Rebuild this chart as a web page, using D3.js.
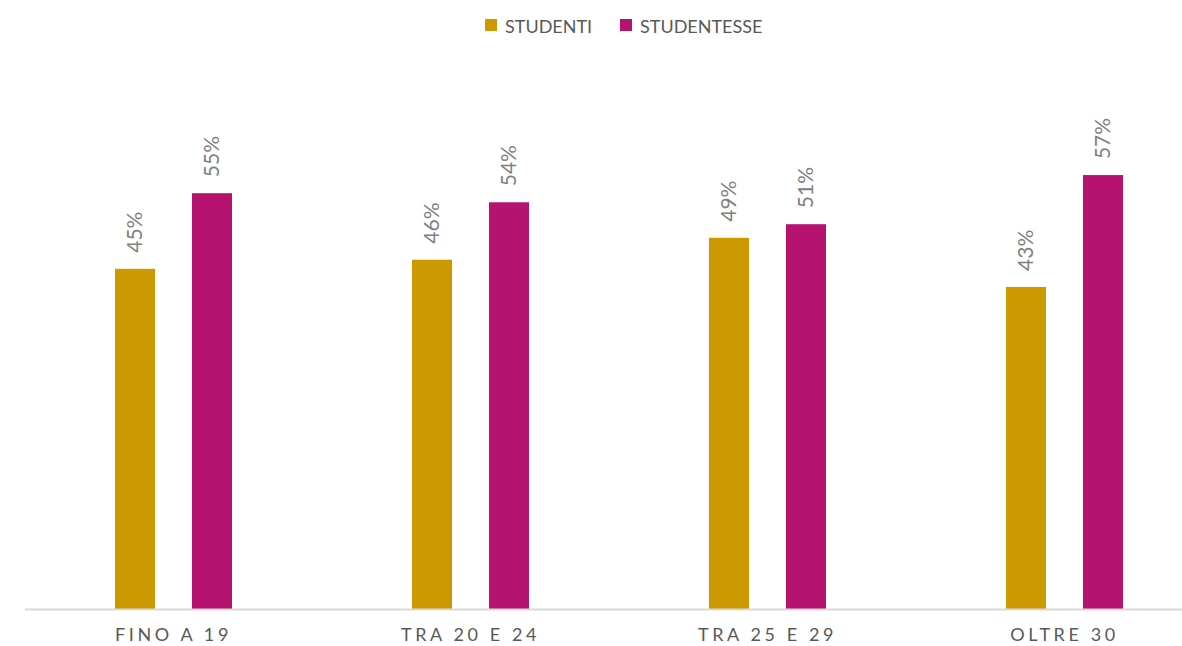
<!DOCTYPE html>
<html><head><meta charset="utf-8">
<script src="https://cdn.jsdelivr.net/npm/d3@7"></script>
<style>
body{margin:0;background:#fff;}
svg{display:block;}
</style></head>
<body><svg id="c" width="1182" height="646"></svg>
<script>
const categories = ["FINO A 19", "TRA 20 E 24", "TRA 25 E 29", "OLTRE 30"];
const seriesNames = ["STUDENTI", "STUDENTESSE"];
const studenti = [0.45, 0.462, 0.491, 0.426];
const studentesse = [0.55, 0.538, 0.509, 0.574];
const colors = ["#cc9900", "#b5136f"];

const svg = d3.select("#c");
const baseY = 609;
const y = d3.scaleLinear().domain([0, 0.6]).range([baseY, baseY - 453.6]);
const x0 = d3.scaleBand().domain(categories).range([25, 1213]).padding(0);
const x1 = d3.scaleBand().domain(seriesNames).range([0, 117]).paddingInner(0.48).paddingOuter(0);
const vals = [studenti, studentesse];

const data = [];
categories.forEach((c, i) => seriesNames.forEach((s, j) => data.push({c, s, j, v: vals[j][i]})));

const bx = d => x0(d.c) + x0.bandwidth() / 2 - 58.5 + x1(d.s);

svg.selectAll("rect.bar").data(data).enter().append("rect")
  .attr("class", "bar")
  .attr("x", bx)
  .attr("y", d => y(d.v))
  .attr("width", x1.bandwidth())
  .attr("height", d => baseY - y(d.v))
  .attr("fill", d => colors[d.j]);

svg.selectAll("text.lbl").data(data).enter().append("text")
  .attr("class", "lbl")
  .attr("transform", d => `translate(${bx(d) + x1.bandwidth() / 2 + 7},${y(d.v) - 16}) rotate(-90)`)
  .attr("font-family", "Lato, 'Open Sans', sans-serif")
  .attr("font-size", 21)
  .attr("fill", "#808080")
  .attr("text-anchor", "start")
  .text(d => d3.format(".0%")(d.v));

// axis
const axis = d3.axisBottom(x0).tickSize(0).tickPadding(19);
const ag = svg.append("g").attr("transform", `translate(0,${baseY})`).call(axis);
ag.select(".domain").remove();
ag.append("line").attr("x1", 25).attr("x2", 1182).attr("y1", 0.5).attr("y2", 0.5)
  .attr("stroke", "#d9d9d9").attr("stroke-width", 2);
ag.selectAll(".tick text")
  .attr("font-family", "Lato, 'Open Sans', sans-serif")
  .attr("font-size", 18)
  .attr("fill", "#595959")
  .attr("letter-spacing", "3.6px");

// legend
const legend = [{name: seriesNames[0], x: 485, c: colors[0]}, {name: seriesNames[1], x: 620, c: colors[1]}];
const lg = svg.selectAll("g.leg").data(legend).enter().append("g").attr("class", "leg");
lg.append("rect").attr("x", d => d.x).attr("y", 19).attr("width", 12).attr("height", 12).attr("fill", d => d.c);
lg.append("text").attr("x", d => d.x + 20).attr("y", 33)
  .attr("font-family", "Lato, 'Open Sans', sans-serif")
  .attr("font-size", 18).attr("fill", "#595959").text(d => d.name);
</script></body></html>
